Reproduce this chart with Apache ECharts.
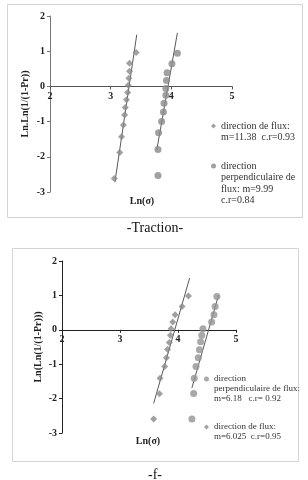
<!DOCTYPE html>
<html>
<head>
<meta charset="utf-8">
<script src="https://cdn.jsdelivr.net/npm/echarts@6/dist/echarts.min.js"></script>
<style>
html,body{margin:0;padding:0;background:#fff;}
#c{width:308px;height:480px;}
</style>
</head>
<body>
<div id="c"></div>
<script>
// ---- Data: Traction ----
var tracFluxX = [3.06, 3.15, 3.18, 3.21, 3.23, 3.24, 3.26, 3.28, 3.29, 3.30, 3.31, 3.31, 3.42];
var tracFluxY = [-2.62, -1.88, -1.43, -1.10, -0.81, -0.60, -0.38, -0.17, 0.03, 0.23, 0.43, 0.66, 0.96];
var tracPerpX = [3.78, 3.78, 3.79, 3.84, 3.87, 3.88, 3.91, 3.91, 3.92, 3.93, 4.01, 4.10];
var tracPerpY = [-2.53, -1.79, -1.32, -1.00, -0.73, -0.48, -0.25, -0.06, 0.17, 0.39, 0.64, 0.94];
var tracFluxFitX = [3.07, 3.43];
var tracFluxFitY = [-2.72, 1.47];
var tracPerpFitX = [3.76, 4.10];
var tracPerpFitY = [-1.81, 1.52];

// ---- Data: f ----
var fFluxX = [3.58, 3.68, 3.69, 3.77, 3.80, 3.82, 3.85, 3.87, 3.88, 3.91, 3.95, 4.07, 4.18];
var fFluxY = [-2.59, -1.86, -1.41, -1.07, -0.81, -0.57, -0.37, -0.16, 0.03, 0.23, 0.44, 0.68, 0.98];
var fPerpX = [4.24, 4.27, 4.28, 4.31, 4.35, 4.37, 4.39, 4.41, 4.43, 4.58, 4.62, 4.64, 4.67];
var fPerpY = [-2.59, -1.85, -1.41, -1.07, -0.81, -0.58, -0.35, -0.16, 0.03, 0.23, 0.44, 0.68, 0.97];
var fFluxFitX = [3.58, 4.20];
var fFluxFitY = [-2.14, 1.50];
var fPerpFitX = [4.24, 4.70];
var fPerpFitY = [-1.69, 1.01];

// ---- Labels ----
var xTicks = [2, 3, 4, 5];
var yTicks = [-3, -2, -1, 0, 1, 2];
var tracYTitle = 'Ln.Ln(1/(1-Pr))';
var fYTitle = 'Ln(Ln(1/(1-Pr)))';
var xTitle = 'Ln(\u03c3)';
var captions = ['-Traction-', '-f-'];
var tracNames = ['direction de flux:\nm=11.38  c.r=0.93', 'direction\nperpendiculaire de\nflux: m=9.99\nc.r=0.84'];
var fNames = ['direction\nperpendiculaire de flux:\nm=6.18   c.r= 0.92', 'direction de flux:\nm=6.025  c.r=0.95'];

function pairs(xs, ys) { return xs.map(function (x, i) { return [x, ys[i]]; }); }

var serif = '"Liberation Serif", "Times New Roman", serif';
var markColor = '#8a8a8a';
var fitColor = '#595959';

// grid geometry
var g0 = { left: 50, right: 76, top: 16, bottom: 288 };
var g1 = { left: 62, right: 72, top: 261, bottom: 47 };
function zeroOffset(g) {
  var h = 480 - g.top - g.bottom;
  var ymin = yTicks[0], ymax = yTicks[yTicks.length - 1];
  return -h * (0 - ymin) / (ymax - ymin);
}

function xAx(gi, lineColor, g) {
  return {
    type: 'value', gridIndex: gi, min: xTicks[0], max: xTicks[xTicks.length - 1], interval: 1,
    position: 'bottom', offset: zeroOffset(g),
    axisLine: { onZero: false, lineStyle: { color: lineColor, width: 1 } },
    axisTick: { show: true, length: 3, lineStyle: { color: lineColor } },
    axisLabel: { fontFamily: serif, fontWeight: 'bold', fontSize: 10, color: '#222', margin: 5 },
    splitLine: { show: false }
  };
}
function yAx(gi, lineColor, name, gap) {
  return {
    type: 'value', gridIndex: gi, min: yTicks[0], max: yTicks[yTicks.length - 1], interval: 1,
    name: name, nameLocation: 'middle', nameGap: gap, nameMoveOverlap: false,
    nameTextStyle: { fontFamily: serif, fontWeight: 'bold', fontSize: 10, color: '#222' },
    axisLine: { show: true, onZero: false, lineStyle: { color: lineColor, width: 1 } },
    axisTick: { show: true, length: 3, lineStyle: { color: lineColor } },
    axisLabel: { fontFamily: serif, fontWeight: 'bold', fontSize: 10, color: '#222', margin: 5 },
    splitLine: { show: false }
  };
}

function legendItem(name, icon, left, markerY, lh, fs) {
  var n = name.split('\n').length;
  var H = (2 * n - 1) * lh;
  var pre = new Array(n).join('\n');
  return {
    data: [{ name: name, icon: icon }],
    orient: 'vertical', left: left, top: markerY - H / 2,
    padding: 0, itemWidth: 5, itemHeight: 5, selectedMode: false,
    formatter: function (nm) { return pre + nm; },
    textStyle: { fontFamily: serif, fontSize: fs, lineHeight: lh, color: '#333' }
  };
}

var chart = echarts.init(document.getElementById('c'), null, { renderer: 'canvas' });
chart.setOption({
  backgroundColor: '#fff',
  animation: false,
  grid: [g0, g1],
  xAxis: [xAx(0, '#555', g0), xAx(1, '#222', g1)],
  yAxis: [yAx(0, '#777', tracYTitle, 20), yAx(1, '#222', fYTitle, 19)],
  legend: [
    legendItem(tracNames[0], 'diamond', 211, 126, 11.5, 10),
    legendItem(tracNames[1], 'circle', 211, 166, 11.5, 10),
    legendItem(fNames[0], 'circle', 204, 379, 9.8, 9),
    legendItem(fNames[1], 'diamond', 204, 427, 9.8, 9)
  ],
  graphic: [
    { type: 'rect', shape: { x: 7.5, y: 4.5, width: 295, height: 213 }, style: { fill: 'none', stroke: '#d4d4d4', lineWidth: 1 }, silent: true },
    { type: 'rect', shape: { x: 12.5, y: 248.5, width: 286, height: 213 }, style: { fill: 'none', stroke: '#d4d4d4', lineWidth: 1 }, silent: true },
    { type: 'text', x: 142, y: 201, style: { text: xTitle, font: 'bold 10px ' + serif, fill: '#222', textAlign: 'center', textVerticalAlign: 'middle' } },
    { type: 'text', x: 148, y: 441, style: { text: xTitle, font: 'bold 10px ' + serif, fill: '#222', textAlign: 'center', textVerticalAlign: 'middle' } },
    { type: 'text', x: 155, y: 228, style: { text: captions[0], font: '14px ' + serif, fill: '#111', textAlign: 'center', textVerticalAlign: 'middle' } },
    { type: 'text', x: 155, y: 475, style: { text: captions[1], font: '14px ' + serif, fill: '#111', textAlign: 'center', textVerticalAlign: 'middle' } }
  ],
  series: [
    { name: tracNames[0], type: 'scatter', xAxisIndex: 0, yAxisIndex: 0, symbol: 'diamond', symbolSize: 7, itemStyle: { color: markColor }, data: pairs(tracFluxX, tracFluxY), z: 3 },
    { name: tracNames[1], type: 'scatter', xAxisIndex: 0, yAxisIndex: 0, symbol: 'circle', symbolSize: 7, itemStyle: { color: markColor }, data: pairs(tracPerpX, tracPerpY), z: 3 },
    { type: 'line', xAxisIndex: 0, yAxisIndex: 0, symbol: 'none', lineStyle: { color: fitColor, width: 1 }, data: pairs(tracFluxFitX, tracFluxFitY), z: 2 },
    { type: 'line', xAxisIndex: 0, yAxisIndex: 0, symbol: 'none', lineStyle: { color: fitColor, width: 1 }, data: pairs(tracPerpFitX, tracPerpFitY), z: 2 },
    { name: fNames[1], type: 'scatter', xAxisIndex: 1, yAxisIndex: 1, symbol: 'diamond', symbolSize: 7, itemStyle: { color: markColor }, data: pairs(fFluxX, fFluxY), z: 3 },
    { name: fNames[0], type: 'scatter', xAxisIndex: 1, yAxisIndex: 1, symbol: 'circle', symbolSize: 7, itemStyle: { color: '#939393' }, data: pairs(fPerpX, fPerpY), z: 3 },
    { type: 'line', xAxisIndex: 1, yAxisIndex: 1, symbol: 'none', lineStyle: { color: fitColor, width: 1 }, data: pairs(fFluxFitX, fFluxFitY), z: 2 },
    { type: 'line', xAxisIndex: 1, yAxisIndex: 1, symbol: 'none', lineStyle: { color: fitColor, width: 1 }, data: pairs(fPerpFitX, fPerpFitY), z: 2 }
  ]
});
</script>
</body>
</html>
